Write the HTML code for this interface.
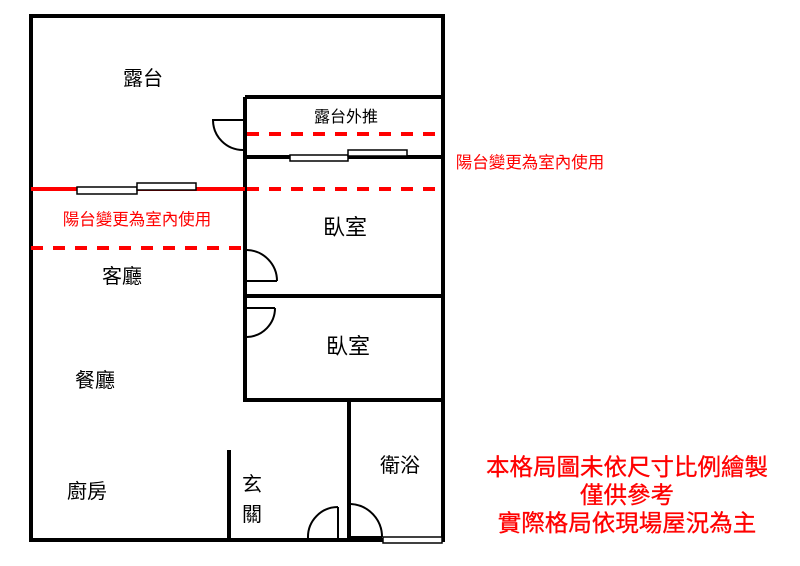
<!DOCTYPE html>
<html><head><meta charset="utf-8"><style>
html,body{margin:0;padding:0;background:#fff;}
svg{display:block;}
text{font-family:"Liberation Sans","Noto Sans CJK TC",sans-serif;}
</style></head><body>
<svg width="800" height="566" viewBox="0 0 800 566" xmlns="http://www.w3.org/2000/svg">
<g stroke="#000" stroke-width="4" fill="none">
  <path d="M31 16 H443 V540 H31 Z"/>
  <path d="M245 97 H443"/>
  <path d="M245 97 V400 H443"/>
  <path d="M245 157 H443"/>
  <path d="M245 296 H443"/>
  <path d="M349 400 V540"/>
  <path d="M229 450 V540"/>
</g>
<g stroke="#000" stroke-width="2" fill="#fff">
  <path d="M212 120 H243" fill="none"/>
  <path d="M213 120 A30 30 0 0 0 243 150" fill="none"/>
  <path d="M247 281 H277" fill="none"/>
  <path d="M247 250 A31 31 0 0 1 277 281" fill="none"/>
  <path d="M247 308 H275" fill="none"/>
  <path d="M275 308 A29 29 0 0 1 247 337" fill="none"/>
  <path d="M338 507 V538" fill="none"/>
  <path d="M338 507 A30 30 0 0 0 308 538" fill="none"/>
  <path d="M351 504 A33 33 0 0 1 382 537" fill="none"/>
  <path d="M351 537 H382" fill="none"/>
  <rect x="290" y="155" width="58" height="6" stroke-width="1.5"/>
  <rect x="348" y="150" width="59" height="6" stroke-width="1.5"/>
  <rect x="383" y="537" width="59" height="6" stroke-width="1.5"/>
</g>
<g stroke="#f00" stroke-width="4" fill="none">
  <path d="M31 189 H245"/>
  <path d="M247 134 H443" stroke-dasharray="12 10"/>
  <path d="M247 189 H443" stroke-dasharray="12 10"/>
  <path d="M31 248 H245" stroke-dasharray="12 10"/>
</g>
<g stroke="#000" stroke-width="1.5" fill="#fff">
  <rect x="77" y="187" width="60" height="7"/>
  <rect x="137" y="183" width="59" height="7"/>
</g>
<g font-size="20" fill="#000" text-anchor="middle">
  <text x="143" y="85">露台</text>
  <text x="346" y="122" font-size="16">露台外推</text>
  <text x="345" y="235" font-size="22">臥室</text>
  <text x="122" y="283">客廳</text>
  <text x="348" y="354" font-size="22">臥室</text>
  <text x="95" y="387">餐廳</text>
  <text x="87" y="498">廚房</text>
  <text x="252" y="491">玄</text>
  <text x="252" y="521">關</text>
  <text x="400" y="472">衛浴</text>
</g>
<g fill="#f00" text-anchor="middle">
  <text x="530" y="168" font-size="16.5">陽台變更為室內使用</text>
  <text x="137" y="225" font-size="16.5">陽台變更為室內使用</text>
  <text x="627" y="475" font-size="23.5" stroke="#f00" stroke-width="0.3">本格局圖未依尺寸比例繪製</text>
  <text x="627" y="503" font-size="23.5" stroke="#f00" stroke-width="0.3">僅供參考</text>
  <text x="627" y="531" font-size="23.5" stroke="#f00" stroke-width="0.3">實際格局依現場屋況為主</text>
</g>
</svg>
</body></html>
